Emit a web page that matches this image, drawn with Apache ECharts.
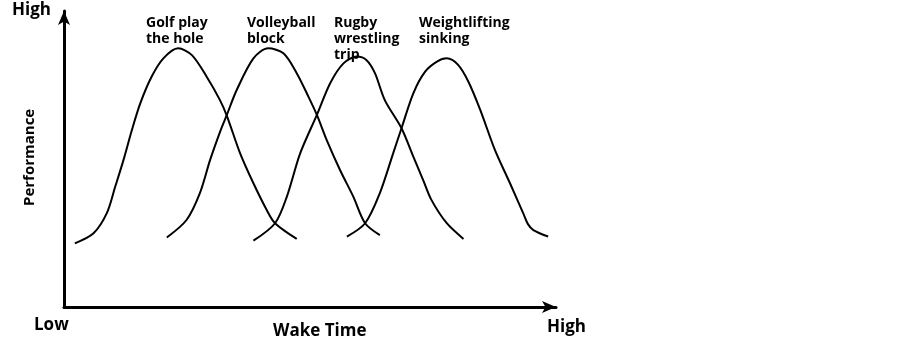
<!DOCTYPE html>
<html>
<head>
<meta charset="utf-8">
<script src="https://cdn.jsdelivr.net/npm/echarts@6/dist/echarts.min.js"></script>
<style>html,body{margin:0;padding:0;background:#fff}#chart{width:902px;height:343px}</style>
</head>
<body>
<div id="chart"></div>
<script>
// Wake time (0..100, arbitrary units) and performance (0..100)
const golfX = [2.2, 6.0, 8.7, 10.4, 12.1, 13.8, 15.5, 17.8, 20.2, 23.2, 26.0, 29.0, 31.7, 33.1, 35.8, 38.5, 41.2, 42.9, 47.3];
const golfY = [21.5, 24.9, 31.7, 40.6, 49.7, 59.8, 68.8, 77.8, 84.0, 87.4, 85.1, 77.8, 69.9, 64.6, 51.9, 41.8, 32.8, 28.3, 23.0];
const volleyX = [20.9, 24.9, 27.6, 29.7, 31.7, 33.1, 35.1, 38.5, 41.5, 44.6, 47.3, 49.7, 51.4, 53.4, 56.1, 58.8, 61.2, 64.2];
const volleyY = [23.5, 29.4, 38.4, 49.7, 59.1, 64.9, 73.3, 84.0, 87.4, 85.7, 79.0, 71.0, 64.9, 56.4, 46.3, 37.3, 28.3, 24.3];
const rugbyX = [38.5, 42.9, 45.3, 48.0, 51.4, 54.1, 56.8, 59.5, 61.5, 63.2, 65.2, 68.6, 71.0, 73.0, 74.7, 77.8, 81.2];
const rugbyY = [22.4, 28.3, 37.3, 51.9, 64.9, 75.6, 82.3, 84.6, 83.4, 79.0, 69.9, 60.4, 50.8, 42.9, 36.1, 28.3, 23.0];
const liftX = [57.5, 61.2, 64.2, 66.9, 68.6, 71.0, 73.4, 75.8, 77.8, 80.1, 82.2, 84.6, 87.6, 90.65, 93.35, 94.3, 95.4, 98.4];
const liftY = [23.8, 28.3, 38.5, 51.9, 60.4, 72.2, 79.5, 82.9, 84.0, 81.8, 76.1, 66.6, 53.0, 41.8, 31.6, 28.0, 26.0, 23.8];
const curveNames = ['Golf play\nthe hole', 'Volleyball\nblock', 'Rugby\nwrestling\ntrip', 'Weightlifting\nsinking'];
const axisTexts = { top: 'High', low: 'Low', right: 'High', xName: 'Wake Time', yName: 'Performance' };

const zip = (xs, ys) => xs.map((x, i) => [x, ys[i]]);
const curves = [zip(golfX, golfY), zip(volleyX, volleyY), zip(rugbyX, rugbyY), zip(liftX, liftY)];

const chart = echarts.init(document.getElementById('chart'), null, { renderer: 'canvas' });
const font = '"Open Sans", sans-serif';
const axisCommon = {
  type: 'value', min: 0, max: 100,
  axisLine: { show: true, symbol: ['none', 'arrow'], symbolSize: [9, 14], lineStyle: { color: '#000', width: 3 } },
  axisTick: { show: false }, axisLabel: { show: false }, splitLine: { show: false }
};
const labelPos = [[146, 15], [247, 15], [334, 15], [419, 15]];
const textStyle = (extra) => Object.assign({ fill: '#000', fontFamily: font, fontWeight: 'bold' }, extra);

chart.setOption({
  animation: false,
  backgroundColor: '#fff',
  grid: { left: 64, right: 346, top: 11, bottom: 36 },
  xAxis: axisCommon,
  yAxis: axisCommon,
  series: curves.map((d, i) => ({
    type: 'line', data: d, smooth: 0.3, symbol: 'none',
    lineStyle: { color: '#000', width: 2 }, z: 3
  })),
  graphic: [
    ...curveNames.map((t, i) => ({
      type: 'text', left: labelPos[i][0], top: labelPos[i][1],
      style: textStyle({ text: t, fontSize: 14, lineHeight: 16 })
    })),
    { type: 'text', left: 12, top: 2, style: textStyle({ text: axisTexts.top, fontSize: 17 }) },
    { type: 'text', left: 34, top: 317, style: textStyle({ text: axisTexts.low, fontSize: 17 }) },
    { type: 'text', left: 547, top: 319, style: textStyle({ text: axisTexts.right, fontSize: 17 }) },
    { type: 'text', left: 273, top: 323, style: textStyle({ text: axisTexts.xName, fontSize: 17 }) },
    { type: 'text', x: 22, y: 206, rotation: Math.PI / 2, style: textStyle({ text: axisTexts.yName, fontSize: 15 }) }
  ]
});
</script>
</body>
</html>
